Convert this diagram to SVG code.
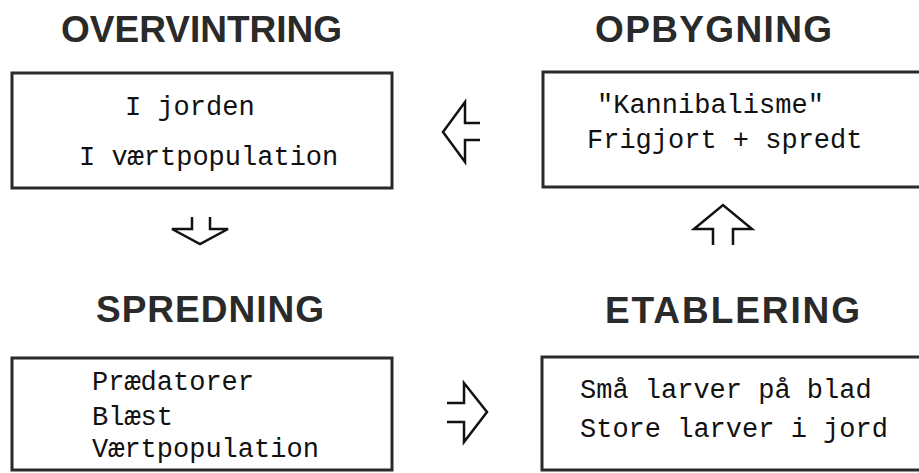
<svg xmlns="http://www.w3.org/2000/svg" width="919" height="473" viewBox="0 0 919 473">
<style>
.bg{fill:#fff}
.box{fill:#fff;stroke:#2a2a2a;stroke-width:3}
.title{font-family:"Liberation Sans",Arial,sans-serif;font-weight:bold;font-size:37px;fill:#2a2a2a}
.body{font-family:"Liberation Mono","DejaVu Sans Mono",monospace;font-size:27px;fill:#111}
.arrow{fill:none;stroke:#111;stroke-width:2.5;stroke-linejoin:miter}
</style>
<rect class="bg" x="0" y="0" width="919" height="473"/>
<g id="overvintring">
<text class="title" x="61" y="42" textLength="281" lengthAdjust="spacing">OVERVINTRING</text>
<rect class="box" x="12" y="73" width="380" height="115"/>
<text class="body" x="125" y="115">I jorden</text>
<text class="body" x="79" y="165">I værtpopulation</text>
</g>
<g id="opbygning">
<text class="title" x="595" y="42" textLength="237" lengthAdjust="spacing">OPBYGNING</text>
<rect class="box" x="543" y="72" width="380" height="115"/>
<text class="body" x="597" y="113">"Kannibalisme"</text>
<text class="body" x="587" y="148">Frigjort + spredt</text>
</g>
<g id="spredning">
<text class="title" x="96" y="322" textLength="228" lengthAdjust="spacing">SPREDNING</text>
<rect class="box" x="12" y="358" width="380" height="112"/>
<text class="body" x="92" y="390">Prædatorer</text>
<text class="body" x="92" y="425">Blæst</text>
<text class="body" x="92" y="457">Værtpopulation</text>
</g>
<g id="etablering">
<text class="title" x="605" y="323" textLength="255" lengthAdjust="spacing">ETABLERING</text>
<rect class="box" x="542" y="357" width="380" height="113"/>
<text class="body" x="580" y="398">Små larver på blad</text>
<text class="body" x="580" y="437">Store larver i jord</text>
</g>
<g id="connectors">
<path class="arrow" d="M480,123 H465 V102 L443,132 L465,162 V140 H480"/>
<path class="arrow" d="M192,217 V229 H172 L200,244 L228,229 H210 V217"/>
<path class="arrow" d="M713,245 V229 H694 L723,205 L752,229 H733 V245"/>
<path class="arrow" d="M447,403 H464 V383 L487,412 L464,442 V422 H447"/>
</g>
</svg>
